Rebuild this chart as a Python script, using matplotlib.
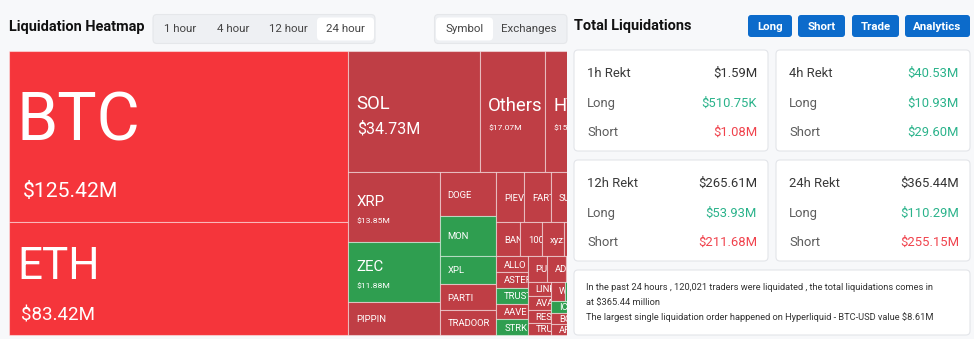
import matplotlib
matplotlib.use("Agg")
import matplotlib.pyplot as plt
from matplotlib.patches import Rectangle, FancyBboxPatch
from matplotlib.transforms import Bbox

# treemap data, 24 hour liquidations in $M
symbols = ['BTC', 'ETH', 'SOL', 'Others', 'HYPE', 'XRP', 'ZEC', 'PIPPIN', 'DOGE', 'MON',
           'XPL', 'PARTI', 'TRADOOR', 'PIEVERSE', 'FARTCOIN', 'SUI', 'ENA',
           'BANANAS31', '1000PEPE', 'xyz:XYZ100', 'BNB', 'LTC',
           'ALLO', 'ASTER', 'TRUST', 'AAVE', 'STRK', 'PUMP', 'ADA', 'WIF', 'TAO',
           'LINK', 'AVAX', 'RESOLV', 'TRUMP', 'WLFI', 'APT', 'ONDO', 'HEMI', 'ICP', 'BOME',
           'ARB', 'OP', 'NEAR', 'PENGU', 'TIA', 'INJ', 'SEI', 'ORDI', 'JUP', 'KAITO']
values = [125.42, 83.42, 34.73, 17.07, 15.21, 13.85, 11.88, 6.50, 5.35, 4.86,
          3.50, 3.20, 3.00, 2.98, 2.92, 2.85, 2.75,
          1.75, 1.65, 1.58, 1.50, 1.42,
          1.08, 1.075, 1.07, 1.065, 1.06, 1.05, 1.04, 1.03, 1.02,
          0.74, 0.68, 0.65, 0.62, 0.60, 0.58, 0.56, 0.42, 0.41, 0.39,
          0.38, 0.36, 0.34, 0.33, 0.31, 0.30, 0.29, 0.27, 0.26, 0.25]
tones = ['hot', 'hot', 'red', 'red', 'red', 'red', 'green', 'red', 'red', 'green',
         'green', 'red', 'red', 'red', 'red', 'red', 'red',
         'red', 'red', 'red', 'red', 'red',
         'red', 'red', 'green', 'red', 'green', 'red', 'red', 'red', 'red',
         'red', 'red', 'red', 'red', 'red', 'green', 'red', 'red', 'green', 'red',
         'red', 'red', 'green', 'red', 'red', 'red', 'red', 'green', 'red', 'red']

# summary cards ($M)
periods = ['1h', '4h', '12h', '24h']
rekt_total = [1.59, 40.53, 265.61, 365.44]
rekt_long = [0.51075, 10.93, 53.93, 110.29]
rekt_short = [1.08, 29.60, 211.68, 255.15]
total_tone = ['dark', 'green', 'dark', 'dark']
short_tone = ['red', 'green', 'red', 'red']

time_tabs = ['1 hour', '4 hour', '12 hour', '24 hour']
view_tabs = ['Symbol', 'Exchanges']
buttons = ['Long', 'Short', 'Trade', 'Analytics']
summary_lines = ['In the past 24 hours , 120,021 traders were liquidated , the total liquidations comes in',
                 'at $365.44 million',
                 'The largest single liquidation order happened on Hyperliquid - BTC-USD value $8.61M']

tile_colors = {'hot': '#f5353b', 'red': '#bf3e45', 'green': '#2f9e50'}
text_colors = {'dark': '#333333', 'green': '#2bb38b', 'red': '#f0434d'}
UI = ['Roboto']
LBL = ['Roboto']


def px(p):
    return p * 0.72


def money(v):
    if v < 1:
        return f'${v * 1000:.2f}K'
    return f'${v:.2f}M'


def squarify(vals, x, y, w, h, ratio=(1 + 5 ** 0.5) / 2):
    # squarified layout, rows kept close to the golden ratio
    total = sum(vals)
    areas = [v / total * w * h for v in vals]
    rect = [x, y, w, h]
    out = []

    def worst(row, area, fixed):
        amax = max(areas[j] for j in row)
        amin = min(areas[j] for j in row)
        sq = area * area
        f = fixed * fixed * ratio
        return max(f * amax / sq, sq / (f * amin))

    def place(row, area, fixed, flush):
        horiz = fixed == rect[2]
        other = area / fixed
        limit = rect[3] if horiz else rect[2]
        if flush or other > limit:
            other = limit
        last = rect[0] if horiz else rect[1]
        end = last + (rect[2] if horiz else rect[3])
        for k, j in enumerate(row):
            step = areas[j] / other
            remain = end - last
            size = remain if (k == len(row) - 1 or remain < step) else step
            if horiz:
                out.append((last, rect[1], size, other))
            else:
                out.append((rect[0], last, other, size))
            last += size
        if horiz:
            rect[1] += other
            rect[3] -= other
        else:
            rect[0] += other
            rect[2] -= other

    row, row_area, best = [], 0.0, float('inf')
    fixed = min(w, h)
    i = 0
    while i < len(vals):
        row.append(i)
        row_area += areas[i]
        score = worst(row, row_area, fixed)
        if score <= best:
            best = score
            i += 1
        else:
            row.pop()
            row_area -= areas[i]
            place(row, row_area, fixed, False)
            fixed = min(rect[2], rect[3])
            row, row_area, best = [], 0.0, float('inf')
    if row:
        place(row, row_area, fixed, True)
    return out


W, H = 974, 339
fig = plt.figure(figsize=(W / 100, H / 100), dpi=100)
fig.patch.set_facecolor('#f7f8fa')
ax = fig.add_axes([0, 0, 1, 1])
ax.set_xlim(0, W)
ax.set_ylim(H, 0)
ax.axis('off')


def clipbox(x0, y0, x1, y1):
    return Bbox.from_extents(x0, H - y1, x1, H - y0)


def rbox(x, y, w, h, fc, ec='none', r=4, lw=0.8):
    ax.add_patch(FancyBboxPatch((x, y), w, h, boxstyle=f'round,pad=0,rounding_size={r}',
                                facecolor=fc, edgecolor=ec, linewidth=lw))


# header left
ax.text(9, 27, 'Liquidation Heatmap', fontsize=px(14.5), fontweight='bold', family=UI,
        color='#111111', va='center')
rbox(153, 14.5, 222, 29, '#eef0f3', '#e5e7ea')
rbox(317, 17.5, 57, 23, 'white')
for label, cx in zip(time_tabs, [180, 233, 288, 345]):
    ax.text(cx, 29.5, label, fontsize=px(11.5), family=UI, color='#444444', ha='center', va='center')
rbox(434.5, 14.5, 132.5, 29, '#eef0f3', '#e5e7ea')
rbox(436, 17.5, 57, 23, 'white')
for label, cx in zip(view_tabs, [465, 529]):
    ax.text(cx, 29.5, label, fontsize=px(11.5), family=UI, color='#444444', ha='center', va='center')

# treemap
tx0, ty0, tw, th = 9, 51, 594, 284
clip_x = 567
cells = squarify(values, tx0, ty0, tw, th)
CAP = 0.71
for (x, y, w, h), name, v, tone in zip(cells, symbols, values, tones):
    r = Rectangle((x, y), w, h, facecolor=tile_colors[tone], edgecolor=(1, 1, 1, 0.45), linewidth=0.8)
    ax.add_patch(r)
    r.set_clip_box(clipbox(tx0 - 1, ty0 - 1, clip_x, ty0 + th + 1))
    if x >= clip_x:
        continue
    cb = clipbox(x, y, min(x + w, clip_x), y + h)
    if v >= 15:
        fn = max(0.527 * v, 18.5)
    elif v >= 10:
        fn = 15
    else:
        fn = 9.5
    if h >= 50:
        fv = 14 + 0.057 * v if v >= 30 else 8.5
        gap = 0.6 * fn + 2
        block = CAP * fn + gap + CAP * fv
        top = y + h / 2 - block / 2 + 0.14 * fn
        nb = top + CAP * fn
        vb = nb + gap + CAP * fv
        t = ax.text(x + 8 + max(0, fv - 15), vb, money(v), fontsize=px(fv), family=LBL,
                    color='white', va='baseline', clip_on=True)
        t.set_clip_box(cb)
    else:
        nb = y + h / 2 + CAP * fn / 2
    t = ax.text(x + 8, nb, name, fontsize=px(fn), family=LBL, color='white',
                va='baseline', clip_on=True)
    t.set_clip_box(cb)

# right panel
ax.text(574, 26, 'Total Liquidations', fontsize=px(14.5), fontweight='bold', family=UI,
        color='#111111', va='center')
for label, bx, bw in zip(buttons, [748, 798, 852, 905], [44, 47, 47, 65]):
    rbox(bx, 15, bw, 22, '#0c6bcb', r=3)
    ax.text(bx + bw / 2, 26.5, label, fontsize=px(11.5), fontweight='bold', family=UI,
            color='white', ha='center', va='center')

card_pos = [(574, 50), (776, 50), (574, 160), (776, 160)]
for (cx, cy), p, tot, lg, sh, tt, st in zip(card_pos, periods, rekt_total, rekt_long,
                                           rekt_short, total_tone, short_tone):
    rbox(cx, cy, 194, 101, 'white', '#e3e5e9')
    rows = [(f'{p} Rekt', '#3a3a3a', tot, tt), ('Long', '#5c5c5c', lg, 'green'),
            ('Short', '#5c5c5c', sh, st)]
    for k, (lab, lc, val, vt) in enumerate(rows):
        yy = cy + 23.5 + 29.5 * k
        ax.text(cx + 13, yy, lab, fontsize=px(13), family=UI, color=lc, va='center')
        ax.text(cx + 183, yy, money(val), fontsize=px(13), family=UI,
                color=text_colors[vt], ha='right', va='center')

rbox(574, 270, 396, 65, 'white', '#e3e5e9')
for k, line in enumerate(summary_lines):
    ax.text(586, 288 + 14.5 * k, line, fontsize=px(9.3), family=UI, color='#333333', va='center')

fig.savefig('out.png', dpi=100, facecolor=fig.get_facecolor())
